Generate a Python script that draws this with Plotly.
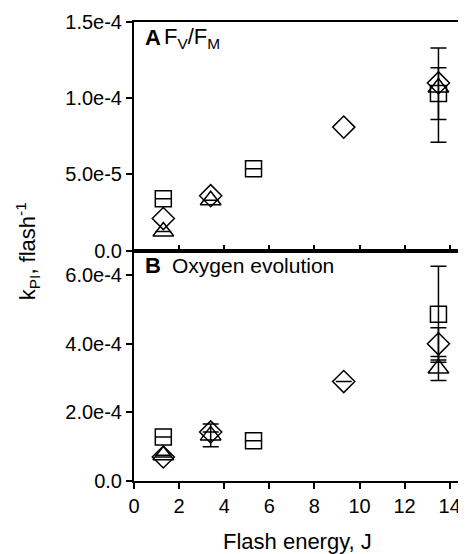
import plotly.graph_objects as go

# Flash energy (J)
energy_sq = [1.3, 5.3, 13.5]
energy_di = [1.3, 3.4, 9.3, 13.5]
energy_tr = [1.3, 3.4, 13.5]

# Panel A: Fv/Fm
a_sq = [3.4e-5, 5.37e-5, 1.03e-4]
a_sq_err = [0, 0, 1.7e-5]
a_di = [2.1e-5, 3.6e-5, 8.1e-5, 1.10e-4]
a_tr = [1.25e-5, 3.3e-5, 1.07e-4]
a_tr_err_plus = [0, 0, 2.6e-5]
a_tr_err_minus = [0, 0, 3.6e-5]

# Panel B: Oxygen evolution
b_sq = [1.28e-4, 1.17e-4, 4.86e-4]
b_sq_err = [0, 0, 1.40e-4]
b_di = [7.0e-5, 1.43e-4, 2.9e-4, 4.0e-4]
b_di_err = [0, 0, 0, 4.7e-5]
b_tr = [7.5e-5, 1.33e-4, 3.28e-4]
b_tr_err = [0, 3.3e-5, 3.5e-5]

yA_ticks = [0, 5e-5, 1e-4, 1.5e-4]
yA_text = ["0.0", "5.0e-5", "1.0e-4", "1.5e-4"]
yB_ticks = [0, 2e-4, 4e-4, 6e-4]
yB_text = ["0.0", "2.0e-4", "4.0e-4", "6.0e-4"]
x_ticks = [0, 2, 4, 6, 8, 10, 12, 14]

FONT = "Arial, Liberation Sans, sans-serif"
mk_line = dict(color="black", width=1.5)

# page body has an 8px margin; figure is sized/placed to compensate
OFF = 8
W, H = 466 - OFF, 554 - OFF
L, T, R, B = 134 - OFF, 19 - OFF, 3, 73
PW, PH = W - L - R, H - T - B  # 329 x 462


def err(arr, minus=None):
    d = dict(type="data", array=arr, visible=True, color="black", thickness=1.5, width=8)
    if minus is not None:
        d["arrayminus"] = minus
        d["symmetric"] = False
    return d


fig = go.Figure()

# Panel A (top) -> xaxis2 / yaxis2
fig.add_trace(go.Scatter(x=energy_sq, y=a_sq, mode="markers", xaxis="x2", yaxis="y2",
                         marker=dict(symbol="square-open", size=16, line=mk_line, color="black"),
                         error_y=err(a_sq_err), showlegend=False))
fig.add_trace(go.Scatter(x=energy_di, y=a_di, mode="markers", xaxis="x2", yaxis="y2",
                         marker=dict(symbol="diamond-open", size=17, line=mk_line, color="black"),
                         showlegend=False))
fig.add_trace(go.Scatter(x=energy_tr, y=a_tr, mode="markers", xaxis="x2", yaxis="y2",
                         marker=dict(symbol="triangle-up-open", size=18, line=mk_line, color="black"),
                         error_y=err(a_tr_err_plus, a_tr_err_minus), showlegend=False))

# Panel B (bottom) -> xaxis / yaxis
fig.add_trace(go.Scatter(x=energy_sq, y=b_sq, mode="markers", xaxis="x", yaxis="y",
                         marker=dict(symbol="square-open", size=16, line=mk_line, color="black"),
                         error_y=err(b_sq_err), showlegend=False))
fig.add_trace(go.Scatter(x=energy_di, y=b_di, mode="markers", xaxis="x", yaxis="y",
                         marker=dict(symbol="diamond-open", size=17, line=mk_line, color="black"),
                         error_y=err(b_di_err), showlegend=False))
fig.add_trace(go.Scatter(x=energy_tr, y=b_tr, mode="markers", xaxis="x", yaxis="y",
                         marker=dict(symbol="triangle-up-open", size=18, line=mk_line, color="black"),
                         error_y=err(b_tr_err), showlegend=False))

split = 232 / 462
axis_common = dict(showgrid=False, zeroline=False, showline=True, linecolor="black",
                   linewidth=2, tickcolor="black", tickwidth=1.5, ticklen=6, mirror=True,
                   tickfont=dict(family=FONT, size=20, color="black"))

fig.update_layout(
    width=W, height=H,
    margin=dict(l=L, r=R, t=T, b=B, pad=0),
    paper_bgcolor="white", plot_bgcolor="white",
    font=dict(family=FONT, size=20, color="black"),
    xaxis=dict(domain=[0, 1], anchor="y", range=[0, 14.5], tickvals=x_ticks,
               ticks="outside", **axis_common),
    yaxis=dict(domain=[0, split], anchor="x", range=[0, 6.72e-4], tickvals=yB_ticks,
               ticktext=yB_text, ticks="outside", **axis_common),
    xaxis2=dict(domain=[0, 1], anchor="y2", range=[0, 14.5], tickvals=x_ticks,
                ticks="inside", showticklabels=False, **axis_common),
    yaxis2=dict(domain=[split, 1], anchor="x2", range=[0, 1.5e-4], tickvals=yA_ticks,
                ticktext=yA_text, ticks="outside", **axis_common),
)


def px(x):  # page pixel -> paper x
    return (x - 134) / PW


def py(y):  # page pixel -> paper y
    return (481 - y) / PH


ann = [
    dict(text="<b>A</b>", x=px(143), y=py(35), xanchor="left", yanchor="middle",
         font=dict(family=FONT, size=22)),
    dict(text="F<sub>V</sub>/F<sub>M</sub>", x=px(162), y=py(35), xanchor="left",
         yanchor="middle", font=dict(family=FONT, size=22)),
    dict(text="<b>B</b>", x=px(143), y=py(264), xanchor="left", yanchor="middle",
         font=dict(family=FONT, size=22)),
    dict(text="Oxygen evolution", x=px(170), y=py(264), xanchor="left", yanchor="middle",
         font=dict(family=FONT, size=21)),
    dict(text="Flash energy, J", x=0.5, y=py(542), xanchor="center", yanchor="middle",
         font=dict(family=FONT, size=22)),
    dict(text="k<sub>PI</sub>, flash<sup>-1</sup>", x=px(27), y=py(250), xanchor="center",
         yanchor="middle", textangle=-90, font=dict(family=FONT, size=22)),
]
for a in ann:
    a.update(xref="paper", yref="paper", showarrow=False)
fig.update_layout(annotations=ann)

fig.write_html("out.html")
